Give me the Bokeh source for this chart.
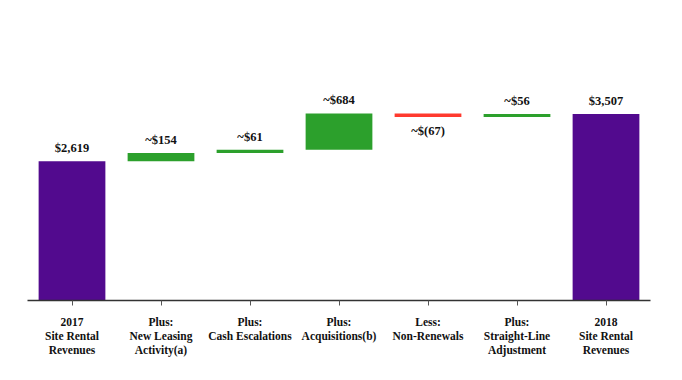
from bokeh.plotting import figure
from bokeh.models import ColumnDataSource, Range1d, FactorRange
from bokeh.embed import file_html
from bokeh.resources import INLINE
from bokeh.core.properties import value

categories = [
    "2017\nSite Rental\nRevenues",
    "Plus:\nNew Leasing\nActivity(a)",
    "Plus:\nCash Escalations",
    "Plus:\nAcquisitions(b)",
    "Less:\nNon-Renewals",
    "Plus:\nStraight-Line\nAdjustment",
    "2018\nSite Rental\nRevenues",
]
amounts = [2619, 154, 61, 684, -67, 56, 3507]
is_total = [True, False, False, False, False, False, True]
value_labels = ["$2,619", "~$154", "~$61", "~$684", "~$(67)", "~$56", "$3,507"]

PURPLE = "#520a8e"
GREEN = "#2ca02c"
RED = "#ff3a2e"

bottoms, tops, colors = [], [], []
running = 0
for amt, tot in zip(amounts, is_total):
    if tot:
        bottoms.append(0)
        tops.append(amt)
        running = amt
        colors.append(PURPLE)
    else:
        start = running
        running = running + amt
        bottoms.append(min(start, running))
        tops.append(max(start, running))
        colors.append(GREEN if amt >= 0 else RED)

src = ColumnDataSource(dict(cat=categories, bottom=bottoms, top=tops, color=colors))

p = figure(
    width=666, height=364,
    x_range=FactorRange(factors=categories, range_padding=0),
    y_range=Range1d(0, 4400),
    output_backend="svg", toolbar_location=None,
    min_border_left=27, min_border_right=16, min_border_top=66, min_border_bottom=64,
)
p.vbar(x="cat", bottom="bottom", top="top", width=0.75, fill_color="color",
       line_color=None, source=src)

pos_x = [c for c, a in zip(categories, amounts) if a >= 0]
pos_y = [t for t, a in zip(tops, amounts) if a >= 0]
pos_t = [l for l, a in zip(value_labels, amounts) if a >= 0]
neg_x = [c for c, a in zip(categories, amounts) if a < 0]
neg_y = [b for b, a in zip(bottoms, amounts) if a < 0]
neg_t = [l for l, a in zip(value_labels, amounts) if a < 0]

font = value("Liberation Serif")
p.text(x=pos_x, y=pos_y, text=pos_t, text_align="center", text_baseline="bottom",
       y_offset=-6, text_font=font, text_font_style="bold", text_font_size="12.5px",
       text_color="#111111")
p.text(x=neg_x, y=neg_y, text=neg_t, text_align="center", text_baseline="top",
       y_offset=7, text_font=font, text_font_style="bold", text_font_size="12.5px",
       text_color="#111111")

p.yaxis.visible = False
p.grid.visible = False
p.outline_line_color = None
p.xaxis.axis_line_color = "#333333"
p.xaxis.axis_line_width = 1.5
p.xaxis.major_tick_line_color = "#555555"
p.xaxis.major_tick_in = 0
p.xaxis.major_tick_out = 5
p.xaxis.minor_tick_line_color = None
p.xaxis.major_label_text_font = "Liberation Serif"
p.xaxis.major_label_text_font_style = "bold"
p.xaxis.major_label_text_font_size = "11.5px"
p.xaxis.major_label_text_color = "#111111"
p.xaxis.major_label_standoff = 10
p.xaxis.major_label_orientation = "horizontal"

open("out.html", "w").write(file_html(p, INLINE))
